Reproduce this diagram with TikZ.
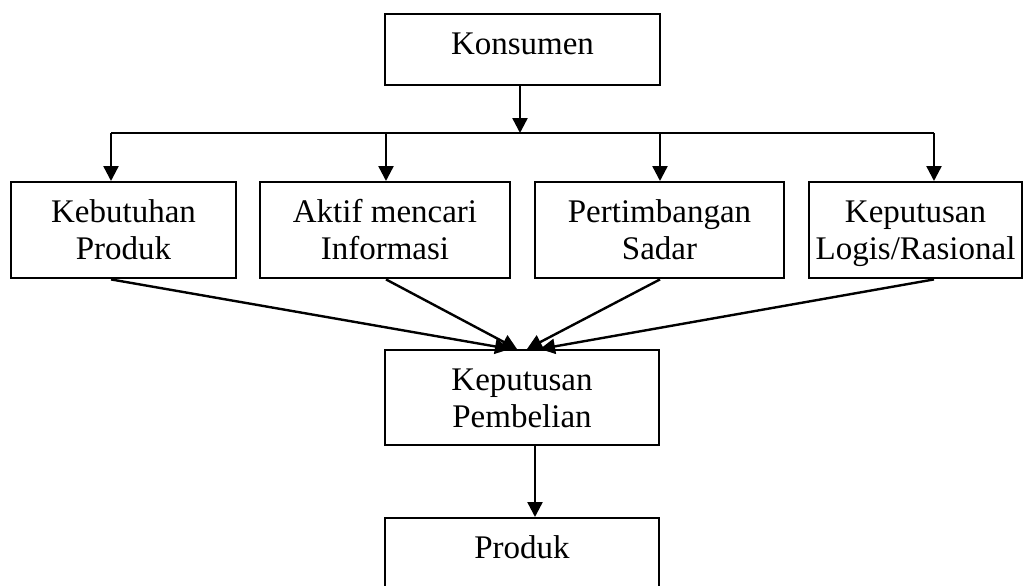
\documentclass[tikz,border=0pt]{standalone}
\usepackage{fontspec}
\setmainfont{Liberation Serif}
\usetikzlibrary{positioning, calc, arrows.meta}

\tikzset{
  box/.style={draw, line width=1.2pt, align=center, inner xsep=0pt, inner ysep=0pt,
    font=\fontsize{16.5}{18.5}\selectfont},
  onebox/.style={box, text height=20pt, text depth=15.5pt},
  twobox/.style={box, text height=38.5pt, text depth=9.5pt},
  link/.style={line width=1.2pt, -{Triangle[width=7.5pt,length=7.5pt]}},
}

\begin{document}
\begin{tikzpicture}[x=0.5pt,y=-0.5pt]
      \useasboundingbox (0,0) rectangle (1024,585);
      \node[onebox, minimum width=137.5pt, anchor=north] (konsumen) at (522.5,13) {Konsumen};
      \node[twobox, minimum width=112.5pt, anchor=north] (kebutuhan) at (123.5,181) {Kebutuhan\\Produk};
      \node[twobox, minimum width=125pt, anchor=north] (aktif) at (385,181) {Aktif mencari\\Informasi};
      \node[twobox, minimum width=124.5pt, anchor=north] (sadar) at (659.5,181) {Pertimbangan\\Sadar};
      \node[twobox, minimum width=106.5pt, anchor=north] (logis) at (915.5,181) {Keputusan\\Logis/Rasional};
      \node[twobox, minimum width=137pt, text depth=9pt, anchor=north] (pembelian) at (522,349) {Keputusan\\Pembelian};
      \node[onebox, minimum width=137pt, anchor=north] (produk) at (522,517) {Produk};
      %
      \coordinate (bus) at (520,133);
      \coordinate (c_1) at (111,133);
      \coordinate (c_2) at (386,133);
      \coordinate (c_3) at (660,133);
      \coordinate (c_4) at (934,133);

      % konsumen ke cabang
      \draw[link] (konsumen.south -| bus) -- (bus);
      \draw[line width=1.2pt] (c_1) -- (c_4);
      \draw[link] (c_1) -- (c_1 |- kebutuhan.north);
      \draw[link] (c_2) -- (c_2 |- aktif.north);
      \draw[link] (c_3) -- (c_3 |- sadar.north);
      \draw[link] (c_4) -- (c_4 |- logis.north);

      % cabang ke keputusan pembelian
      \draw[link] (c_1 |- kebutuhan.south) -- ($(pembelian.north)+(-12,0)$);
      \draw[link] (c_2 |- aktif.south) -- ($(pembelian.north)+(-5,0)$);
      \draw[link] (c_3 |- sadar.south) -- ($(pembelian.north)+(5,0)$);
      \draw[link] (c_4 |- logis.south) -- ($(pembelian.north)+(18,0)$);

      \draw[link] ($(pembelian.south)+(13,0)$) -- ($(produk.north)+(13,0)$);
  \end{tikzpicture}
\end{document}
